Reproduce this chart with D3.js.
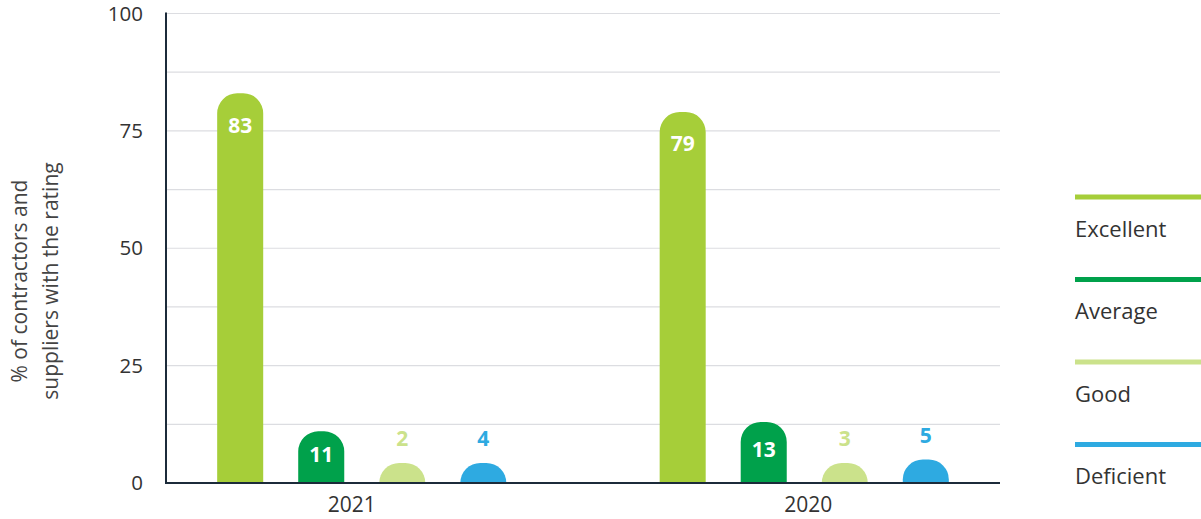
<!DOCTYPE html>
<html>
<head>
<meta charset="utf-8">
<script src="https://cdn.jsdelivr.net/npm/d3@7"></script>
<style>
  body { margin: 0; background: #fff; }
  svg { display: block; font-family: "Open Sans", sans-serif; }
</style>
</head>
<body>
<div id="chart"></div>
<script>
const years = ["2021", "2020"];
const ratings = ["Excellent", "Average", "Good", "Deficient"];
const excellent = [83, 79];
const average = [11, 13];
const good = [2, 3];
const deficient = [4, 5];
const yTicks = [0, 25, 50, 75, 100];
const colors = ["#a6ce39", "#00a14b", "#cbe28b", "#2eaae1"];

const W = 1201, H = 519;
const margin = { top: 13.5, right: 201, bottom: 36, left: 166 };

const series = [excellent, average, good, deficient];
const data = years.map((yr, i) => ({
  year: yr,
  values: ratings.map((r, j) => ({ key: r, value: series[j][i], color: colors[j] }))
}));

const svg = d3.select("#chart").append("svg")
  .attr("width", W)
  .attr("height", H);

const x0 = d3.scaleBand()
  .domain(years)
  .range([margin.left, W - margin.right])
  .paddingInner(0.2)
  .paddingOuter(0.0424);

const x1 = d3.scaleBand()
  .domain(ratings)
  .range([0, x0.bandwidth()])
  .paddingInner(0.432)
  .paddingOuter(0.4);

const y = d3.scaleLinear()
  .domain([0, 100])
  .range([H - margin.bottom, margin.top]);

// gridlines every 12.5
svg.append("g")
  .selectAll("line")
  .data(d3.range(12.5, 100.1, 12.5))
  .enter().append("line")
  .attr("x1", margin.left)
  .attr("x2", W - margin.right)
  .attr("y1", d => y(d))
  .attr("y2", d => y(d))
  .attr("stroke", "#dcdde1")
  .attr("stroke-width", 1.2);

// y axis labels
const yAxis = svg.append("g")
  .attr("transform", "translate(" + margin.left + ",0)")
  .call(d3.axisLeft(y).tickValues(yTicks).tickSize(0).tickPadding(23));
yAxis.select(".domain").remove();
yAxis.selectAll("text")
  .attr("font-size", 20.5)
  .attr("fill", "#333")
  .attr("font-family", "Open Sans, sans-serif");

// x axis labels
const xAxis = svg.append("g")
  .attr("transform", "translate(0," + y(0) + ")")
  .call(d3.axisBottom(x0).tickSize(0).tickPadding(14));
xAxis.select(".domain").remove();
xAxis.selectAll("text")
  .attr("font-size", 21)
  .attr("fill", "#333")
  .attr("font-family", "Open Sans, sans-serif")
  .attr("dx", (d, i) => i === 0 ? -10 : 4);

// axis title
const title = svg.append("text")
  .attr("transform", "translate(34," + 281 + ") rotate(-90)")
  .attr("text-anchor", "middle")
  .attr("font-size", 21)
  .attr("fill", "#444");
title.append("tspan").attr("x", 0).attr("dy", "-0.33em").text("% of contractors and");
title.append("tspan").attr("x", 0).attr("dy", "1.45em").text("suppliers with the rating");

// bars with rounded tops; very short bars keep a small dome so they stay visible
const minH = 20;
function barH(v) { return Math.max(y(0) - y(v), minH); }
function barPath(bx, by, w, h) {
  const r = Math.min(20, h);
  const b = by + h;
  return "M" + bx + "," + b +
    "L" + bx + "," + (by + r) +
    "A" + r + "," + r + " 0 0 1 " + (bx + r) + "," + by +
    "L" + (bx + w - r) + "," + by +
    "A" + r + "," + r + " 0 0 1 " + (bx + w) + "," + (by + r) +
    "L" + (bx + w) + "," + b + "Z";
}

const groups = svg.append("g")
  .selectAll("g")
  .data(data)
  .enter().append("g")
  .attr("transform", d => "translate(" + x0(d.year) + ",0)");

groups.selectAll("path")
  .data(d => d.values)
  .enter().append("path")
  .attr("d", d => barPath(x1(d.key), y(0) - barH(d.value), x1.bandwidth(), barH(d.value)))
  .attr("fill", d => d.color);

groups.selectAll("text")
  .data(d => d.values)
  .enter().append("text")
  .attr("x", d => x1(d.key) + x1.bandwidth() / 2)
  .attr("y", d => {
    const h = barH(d.value);
    const top = y(0) - h;
    if (h < 40) return top - 24;
    if (h > 100) return top + 32;
    return top + h / 2 - 3;
  })
  .attr("dy", "0.35em")
  .attr("text-anchor", "middle")
  .attr("font-size", 21)
  .attr("font-weight", 700)
  .attr("fill", d => barH(d.value) < 40 ? d.color : "#fff")
  .text(d => d.value);

// axis lines
svg.append("line")
  .attr("x1", margin.left).attr("x2", margin.left)
  .attr("y1", margin.top - 1).attr("y2", y(0))
  .attr("stroke", "#1c2b3a").attr("stroke-width", 2);
svg.append("line")
  .attr("x1", margin.left - 1).attr("x2", W - margin.right)
  .attr("y1", y(0)).attr("y2", y(0))
  .attr("stroke", "#1c2b3a").attr("stroke-width", 2);

// legend
const legend = svg.append("g")
  .selectAll("g")
  .data(ratings)
  .enter().append("g")
  .attr("transform", (d, i) => "translate(1075," + (197 + i * 82.5) + ")");

legend.append("line")
  .attr("x1", 0).attr("x2", 130)
  .attr("y1", 0).attr("y2", 0)
  .attr("stroke", (d, i) => colors[i])
  .attr("stroke-width", 5);

legend.append("text")
  .attr("x", 0)
  .attr("y", 32)
  .attr("dy", "0.35em")
  .attr("font-size", 22)
  .attr("fill", "#333")
  .text(d => d);
</script>
</body>
</html>
